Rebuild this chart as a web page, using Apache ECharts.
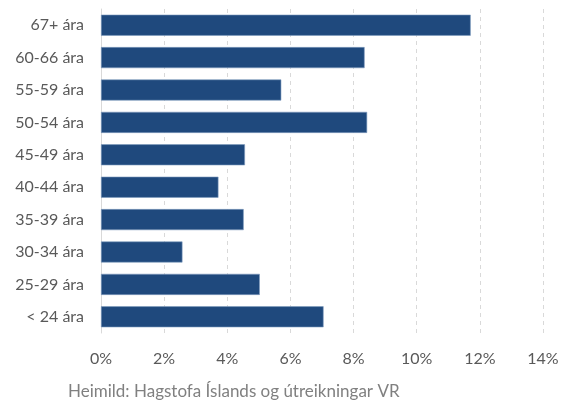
<!DOCTYPE html>
<html>
<head>
<meta charset="utf-8">
<script src="https://cdn.jsdelivr.net/npm/echarts@6/dist/echarts.min.js"></script>
<style>
  html, body { margin: 0; padding: 0; background: #fff; }
  #chart { width: 569px; height: 402px; }
</style>
</head>
<body>
<div id="chart"></div>
<script>
// Age groups, top to bottom
const ageGroups = ['67+ ára', '60-66 ára', '55-59 ára', '50-54 ára', '45-49 ára',
                   '40-44 ára', '35-39 ára', '30-34 ára', '25-29 ára', '< 24 ára'];
// Share per age group (fraction)
const shares = [0.1171, 0.0835, 0.0571, 0.0843, 0.0456,
                0.0372, 0.0452, 0.0258, 0.0503, 0.0705];
// Value axis ticks
const axisMin = 0;
const axisMax = 0.14;
const axisStep = 0.02;
const sourceNote = 'Heimild: Hagstofa Íslands og útreikningar VR';

const FONT = 'Lato, "Open Sans", sans-serif';
const chart = echarts.init(document.getElementById('chart'));
chart.setOption({
  animation: false,
  grid: { left: 101, right: 26, top: 9, bottom: 69, containLabel: false },
  xAxis: {
    type: 'value',
    min: axisMin,
    max: axisMax,
    interval: axisStep,
    axisLine: { show: false },
    axisTick: { show: false },
    axisLabel: {
      formatter: v => Math.round(v * 100) + '%',
      color: '#595959',
      fontFamily: FONT,
      fontSize: 16,
      margin: 18
    },
    splitLine: {
      show: true,
      lineStyle: { color: '#d9d9d9', type: [4, 4], width: 1 }
    }
  },
  yAxis: {
    type: 'category',
    data: ageGroups,
    inverse: true,
    axisLine: { show: true, lineStyle: { color: '#d9d9d9', width: 1 } },
    axisTick: { show: false },
    axisLabel: {
      color: '#595959',
      fontFamily: FONT,
      fontSize: 16,
      margin: 17
    }
  },
  series: [{
    type: 'bar',
    data: shares,
    barCategoryGap: '35%',
    itemStyle: {
      color: '#1f497d',
      borderColor: '#7f9cbf',
      borderWidth: 0.6
    }
  }],
  graphic: [{
    type: 'text',
    left: 68,
    top: 383,
    style: {
      text: sourceNote,
      fill: '#808080',
      font: '17px ' + FONT
    }
  }]
});
</script>
</body>
</html>
